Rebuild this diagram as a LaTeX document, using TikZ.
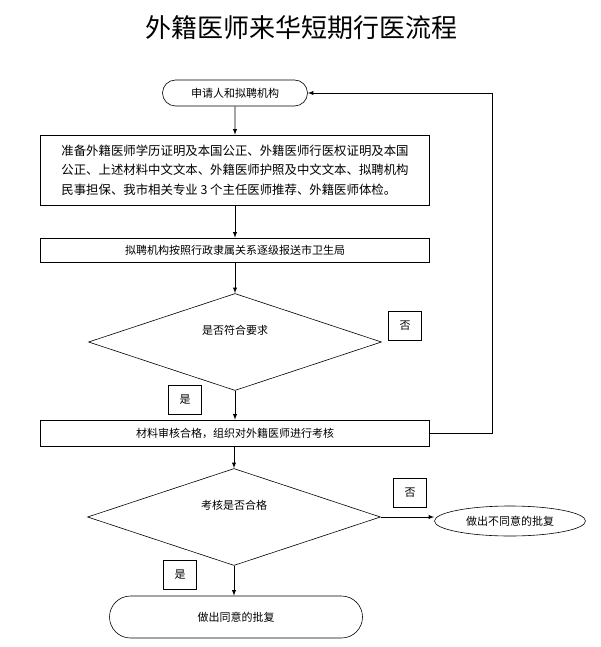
\documentclass[tikz,border=0pt]{standalone}
\usepackage{fontspec}
\setmainfont{Noto Sans CJK SC}
\usetikzlibrary{shapes.geometric,shapes.misc,arrows,positioning,calc}

\tikzset{
  box/.style={draw,line width=0.6pt,rectangle,inner sep=0pt,font=\fontsize{11}{19}\selectfont},
  term/.style={draw,line width=0.6pt,rounded rectangle,inner sep=0pt,font=\fontsize{11}{13}\selectfont},
  decide/.style={draw,line width=0.6pt,diamond,inner sep=0pt},
  tag/.style={draw,line width=0.6pt,rectangle,inner sep=0pt,minimum width=33pt,minimum height=29pt,font=\fontsize{11}{13}\selectfont},
  flow/.style={-latex,line width=0.9pt}
}

\begin{document}
\begin{tikzpicture}[x=1pt,y=-1pt]
  \useasboundingbox (0,0) rectangle (600,647);
  % title
  \node[font=\fontsize{26}{30}\selectfont] (title) at (301,28) {外籍医师来华短期行医流程};

  % main column
  \node[term,minimum width=145pt,minimum height=26pt] (start) at (235,93) {申请人和拟聘机构};
  \node[box,minimum width=389pt,minimum height=70pt,align=left,font=\fontsize{12.4}{19.5}\selectfont] (docs) at (235,170)
    {准备外籍医师学历证明及本国公正、外籍医师行医权证明及本国\\
     公正、上述材料中文文本、外籍医师护照及中文文本、拟聘机构\\
     民事担保、我市相关专业 3 个主任医师推荐、外籍医师体检。};
  \node[box,minimum width=389pt,minimum height=24pt] (report) at (235,250) {拟聘机构按照行政隶属关系逐级报送市卫生局};
  \node[decide,minimum width=293pt,minimum height=97pt,
        label={[yshift=12pt,font=\fontsize{11}{13}\selectfont]center:是否符合要求}] (check) at (235,342) {};
  \node[box,minimum width=389pt,minimum height=26pt] (exam) at (235,433) {材料审核合格，组织对外籍医师进行考核};
  \node[decide,minimum width=293pt,minimum height=97pt,
        label={[yshift=12pt,font=\fontsize{11}{13}\selectfont]center:考核是否合格}] (pass) at (234,517) {};
  \node[term,minimum width=253pt,minimum height=42pt] (agree) at (236,617) {做出同意的批复};
  \node[draw,line width=0.6pt,ellipse,inner sep=0pt,minimum width=151pt,minimum height=30pt,
        font=\fontsize{11}{13}\selectfont] (refuse) at (510,521) {做出不同意的批复};

  % yes / no tags
  \node[tag] (no1) at (405,326) {否};
  \node[tag] (yes1) at (185,400) {是};
  \node[tag] (no2) at (410,493) {否};
  \node[tag] (yes2) at (180,575) {是};

  % connectors
  \draw[flow] (start) -- (docs);
  \draw[flow] (docs) -- (report);
  \draw[flow] (report) -- (check);
  \draw[flow] (check) -- (exam);
  \draw[flow] (exam.south -| pass.north) -- (pass);
  \draw[flow] (pass.south) -- (pass.south |- agree.north);
  \draw[flow] (pass.east) -- (refuse.west |- pass.east);
  \coordinate (back) at (492,433);
  \draw[flow] (exam.east) -- (back) |- (start.east);
\end{tikzpicture}
\end{document}
